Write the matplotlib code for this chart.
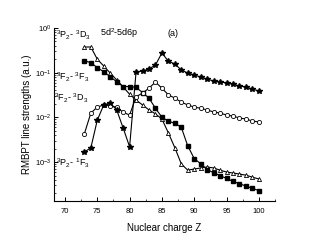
import matplotlib
matplotlib.use("Agg")
import matplotlib.pyplot as plt
from matplotlib.ticker import LogLocator, FixedLocator, NullFormatter, MultipleLocator

plt.rcParams['font.family'] = ['Liberation Sans', 'DejaVu Sans']
plt.rcParams['mathtext.fontset'] = 'custom'
plt.rcParams['mathtext.rm'] = 'Liberation Sans'
plt.rcParams['mathtext.it'] = 'Liberation Sans'

Z_tri = list(range(73, 101))
P2D3 = [0.376, 0.376, 0.20, 0.141, 0.098, 0.069, 0.048, 0.033, 0.0245, 0.019,
        0.0147, 0.012, 0.0092, 4.5e-3, 2.1e-3, 9.1e-4, 6.6e-4, 7.0e-4, 7.4e-4,
        7.8e-4, 7.4e-4, 6.6e-4, 6.0e-4, 5.7e-4, 5.4e-4, 5.1e-4, 4.6e-4, 4.2e-4]

Z_sq = list(range(73, 101))
F2F3 = [0.185, 0.168, 0.130, 0.105, 0.081, 0.063, 0.049, 0.049, 0.047, 0.036,
        0.027, 0.016, 0.0101, 0.0082, 0.0074, 0.0060, 0.0023, 0.0012, 9.2e-4,
        6.8e-4, 5.8e-4, 5.0e-4, 4.3e-4, 3.7e-4, 3.3e-4, 2.9e-4, 2.6e-4, 2.3e-4]

Z_circ = list(range(73, 101))
F2D3 = [4.3e-3, 0.0125, 0.017, 0.019, 0.018, 0.017, 0.013, 0.0113, 0.029, 0.035,
        0.045, 0.062, 0.045, 0.032, 0.027, 0.022, 0.019, 0.017, 0.016, 0.0147,
        0.0132, 0.0125, 0.0113, 0.0107, 0.0097, 0.0092, 0.0083, 0.0079]

Z_star = list(range(73, 101))
P2F3 = [1.69e-3, 2.08e-3, 8.7e-3, 0.019, 0.021, 0.0147, 5.8e-3, 2.2e-3, 0.104,
        0.109, 0.121, 0.149, 0.276, 0.18, 0.157, 0.115, 0.098, 0.089, 0.08,
        0.072, 0.065, 0.062, 0.059, 0.056, 0.05, 0.048, 0.043, 0.039]

xticks = [70, 75, 80, 85, 90, 95, 100]
yticks = [1e-3, 1e-2, 1e-1, 1e0]
yticklabels = [r'$10^{-3}$', r'$10^{-2}$', r'$10^{-1}$', r'$10^{0}$']

fig = plt.figure(figsize=(3.2, 2.45), dpi=100)
ax = fig.add_axes([54/320, 1-201/245, (275-54)/320, (201-28)/245])

lw = 0.8
ms = 3.0
ax.plot(Z_tri, P2D3, '-', color='black', lw=lw, marker='^', ms=ms,
        mfc='white', mec='black', mew=0.6)
ax.plot(Z_sq, F2F3, '-', color='black', lw=lw, marker='s', ms=ms-0.4,
        mfc='black', mec='black')
ax.plot(Z_circ, F2D3, '-', color='black', lw=lw, marker='o', ms=ms,
        mfc='white', mec='black', mew=0.6)
ax.plot(Z_star, P2F3, '-', color='black', lw=lw, marker='*', ms=ms+0.8,
        mfc='black', mec='black')

ax.set_yscale('log')
ax.set_xlim(68.3, 102.5)
ax.set_ylim(10 ** -3.87, 1.0)

ax.xaxis.set_major_locator(FixedLocator(xticks))
ax.xaxis.set_minor_locator(MultipleLocator(2.5))
ax.set_xticklabels([str(t) for t in xticks])
ax.yaxis.set_major_locator(FixedLocator(yticks))
ax.set_yticklabels(yticklabels)
ax.yaxis.set_minor_locator(LogLocator(base=10, subs=range(2, 10)))
ax.yaxis.set_minor_formatter(NullFormatter())

for s in ['top', 'right']:
    ax.spines[s].set_visible(False)
for s in ['left', 'bottom']:
    ax.spines[s].set_linewidth(0.8)

ax.tick_params(which='major', direction='in', length=3, width=0.7, labelsize=5.5, pad=2)
ax.tick_params(axis='x', which='major', pad=5)
ax.tick_params(which='minor', direction='in', length=1.6, width=0.5)

ax.set_xlabel('Nuclear charge Z', fontsize=7, labelpad=6)
ax.set_ylabel('RMBPT line strengths (a.u.)', fontsize=7, labelpad=2)

def ft(x, y, s, **kw):
    fig.text(x / 320, 1 - y / 245, s, va='center', ha='left', **kw)

ft(56, 35, r'$^{3}$P$_{2}$- $^{3}$D$_{3}$', fontsize=6.5)
ft(56, 77, r'$^{3}$F$_{2}$- $^{3}$F$_{3}$', fontsize=6.5)
ft(54, 98, r'$^{3}$F$_{2}$- $^{3}$D$_{3}$', fontsize=6.5)
ft(56, 163, r'$^{3}$P$_{2}$- $^{1}$F$_{3}$', fontsize=6.5)
ft(100, 33, r'5d$^{2}$-5d6p', fontsize=6.5)
ft(167, 33, '(a)', fontsize=6.5)

fig.savefig('out.png', dpi=100)
